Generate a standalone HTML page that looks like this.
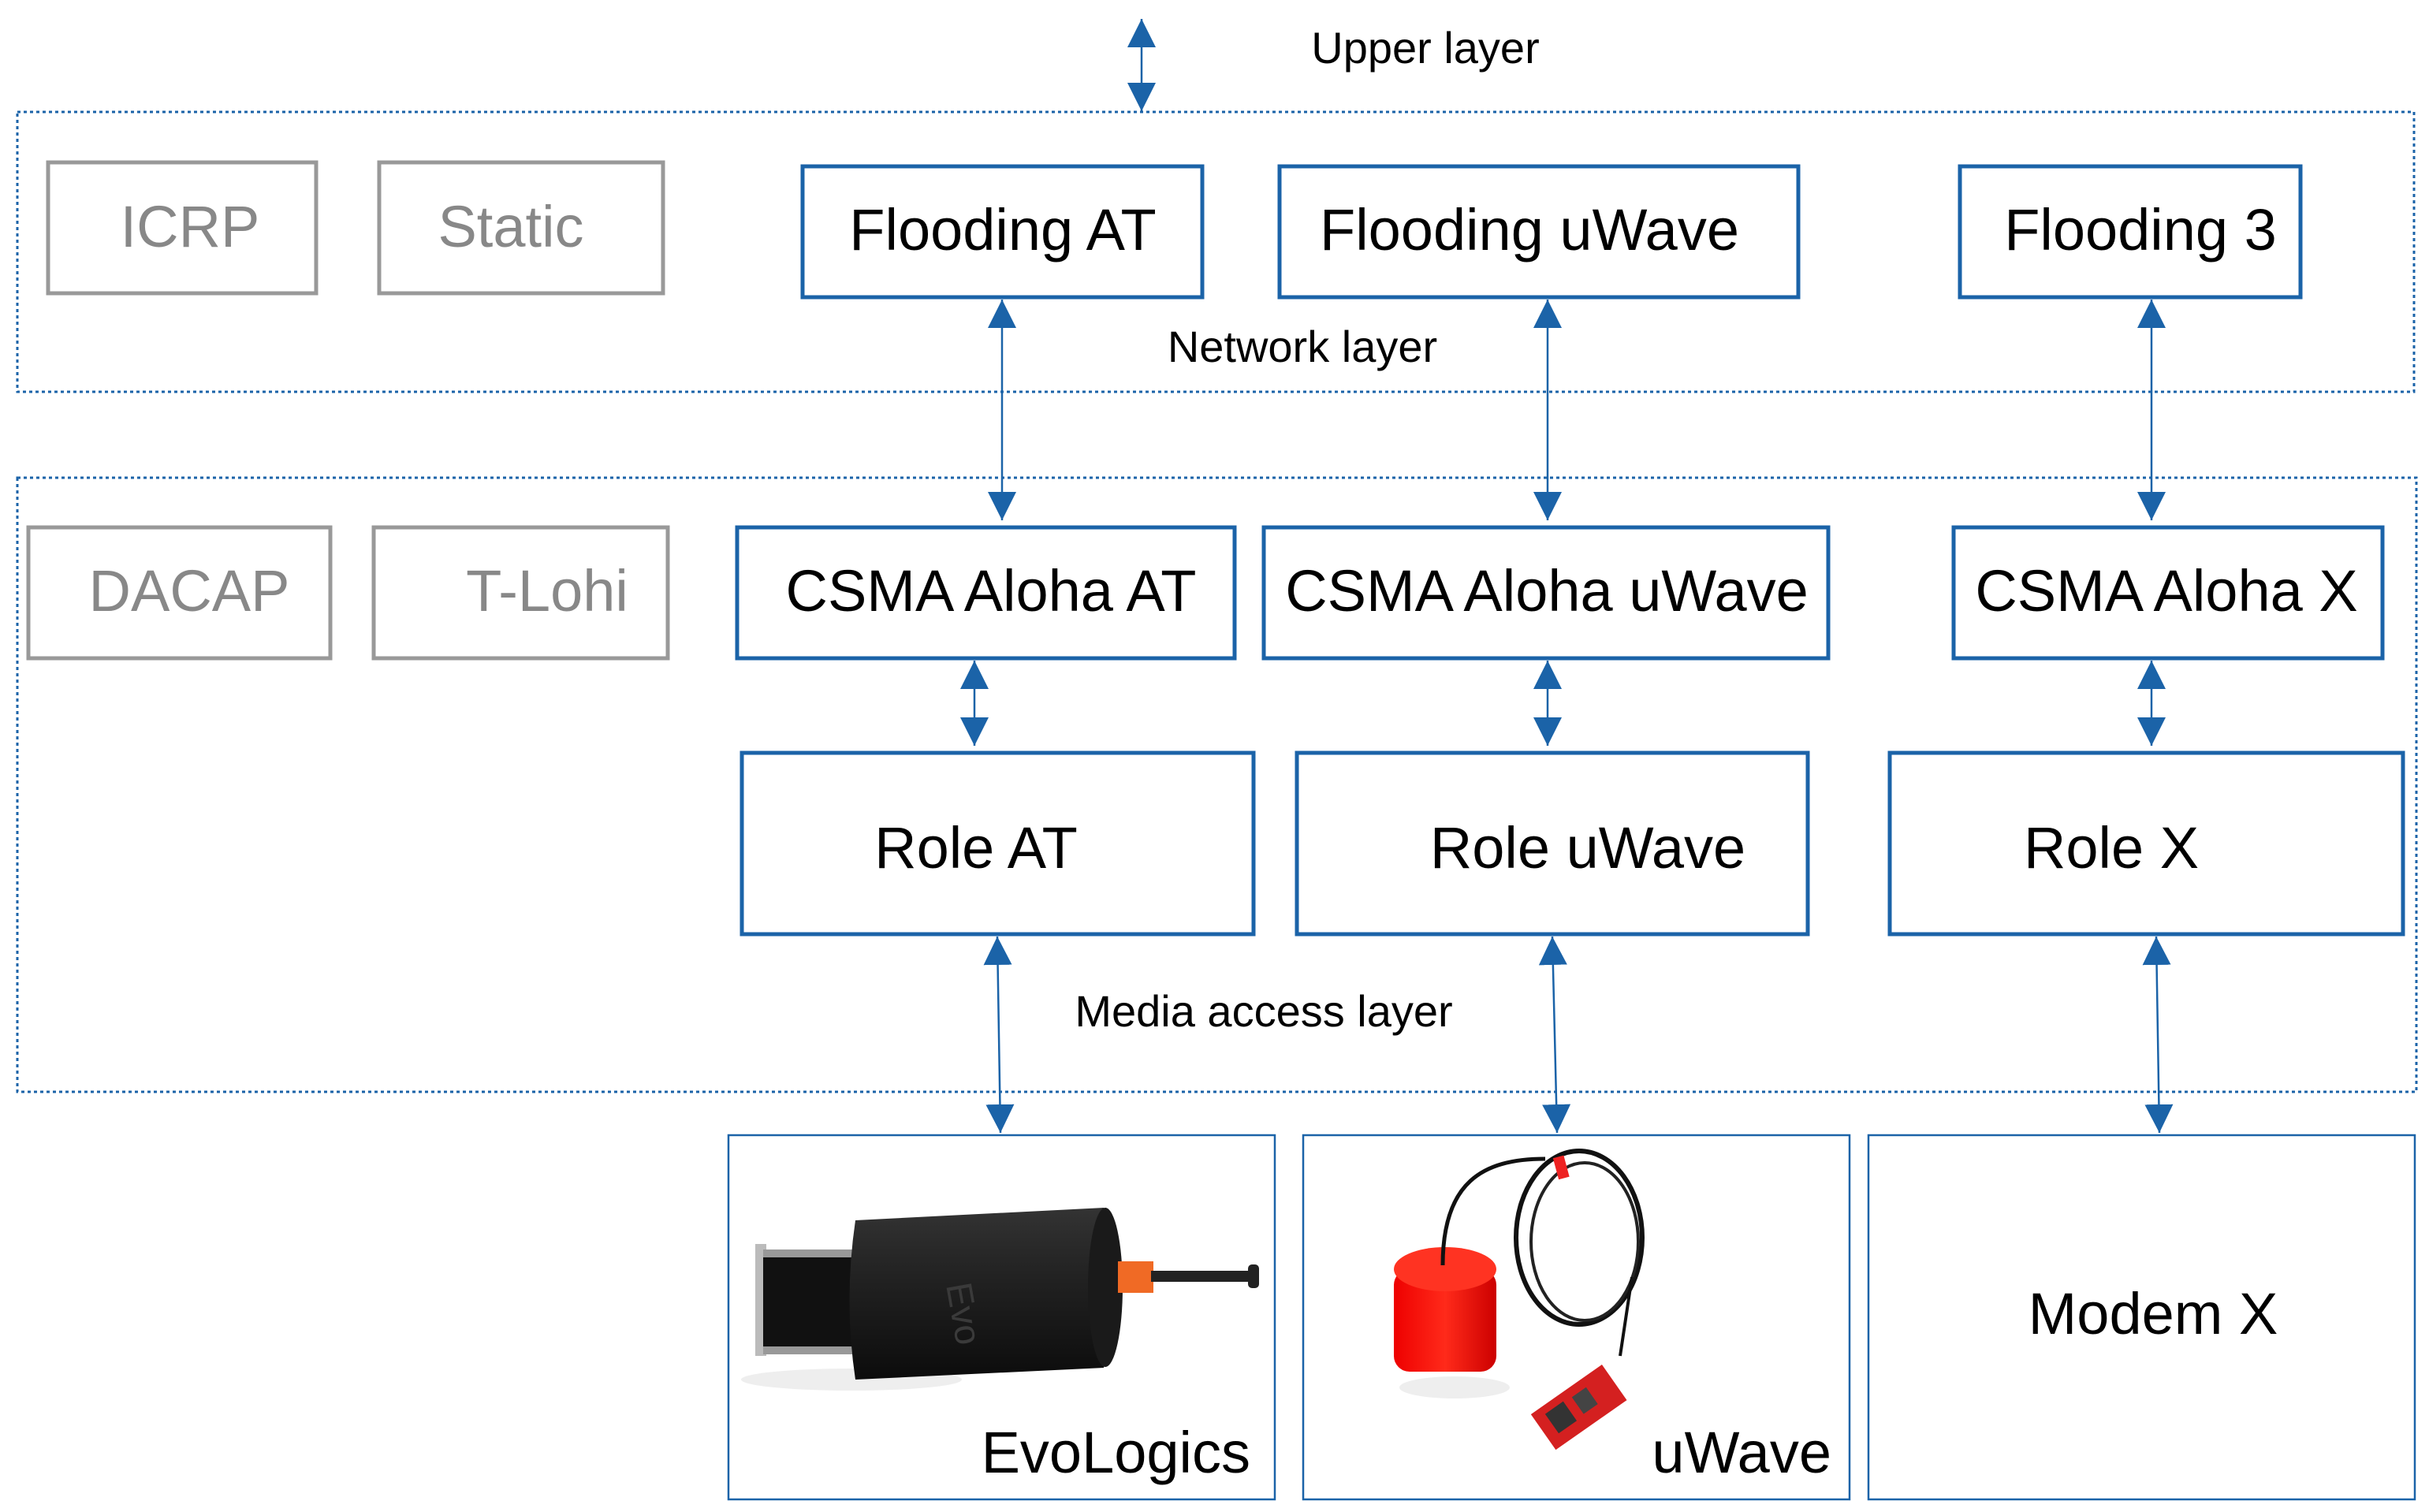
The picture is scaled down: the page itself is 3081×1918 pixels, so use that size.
<!DOCTYPE html>
<html><head><meta charset="utf-8"><style>
html,body{margin:0;padding:0;background:#fff;}
svg{display:block;}
text{font-family:"Liberation Sans",sans-serif;}
</style></head><body>
<svg width="3081" height="1918" viewBox="0 0 3081 1918" xmlns="http://www.w3.org/2000/svg">
<defs>
<marker id="a" viewBox="0 0 10 10" refX="10" refY="5" markerWidth="36" markerHeight="36" markerUnits="userSpaceOnUse" orient="auto-start-reverse"><path d="M0,0 L10,5 L0,10 z" fill="#1b63a8"/></marker>
<linearGradient id="cyl" x1="0" y1="0" x2="0" y2="1"><stop offset="0" stop-color="#333"/><stop offset="0.4" stop-color="#222"/><stop offset="1" stop-color="#0c0c0c"/></linearGradient>
<linearGradient id="red" x1="0" y1="0" x2="1" y2="0"><stop offset="0" stop-color="#e00"/><stop offset="0.5" stop-color="#ff2a1a"/><stop offset="1" stop-color="#c00"/></linearGradient>
</defs>
<!-- layer boxes -->
<rect x="22" y="142" width="3040" height="355" fill="none" stroke="#1b63a8" stroke-width="3" stroke-dasharray="4,4"/>
<rect x="22" y="606" width="3043" height="779" fill="none" stroke="#1b63a8" stroke-width="3" stroke-dasharray="4,4"/>
<!-- gray boxes -->
<g fill="none" stroke="#999" stroke-width="5">
<rect x="61" y="206" width="340" height="166"/>
<rect x="481" y="206" width="360" height="166"/>
<rect x="36" y="669" width="383" height="166"/>
<rect x="474" y="669" width="373" height="166"/>
</g>
<g font-size="74" fill="#888">
<text x="241" y="313" text-anchor="middle">ICRP</text>
<text x="648" y="313" text-anchor="middle">Static</text>
<text x="240" y="775" text-anchor="middle">DACAP</text>
<text x="694" y="775" text-anchor="middle">T-Lohi</text>
</g>
<!-- blue boxes -->
<g fill="none" stroke="#1b63a8" stroke-width="5">
<rect x="1018" y="211" width="507" height="166"/>
<rect x="1623" y="211" width="658" height="166"/>
<rect x="2486" y="211" width="432" height="166"/>
<rect x="935" y="669" width="631" height="166"/>
<rect x="1603" y="669" width="716" height="166"/>
<rect x="2478" y="669" width="544" height="166"/>
<rect x="941" y="955" width="649" height="230"/>
<rect x="1645" y="955" width="648" height="230"/>
<rect x="2397" y="955" width="651" height="230"/>
</g>
<g fill="none" stroke="#1b63a8" stroke-width="2.5">
<rect x="924" y="1440" width="693" height="462"/>
<rect x="1653" y="1440" width="693" height="462"/>
<rect x="2370" y="1440" width="693" height="462"/>
</g>
<g font-size="74" fill="#000">
<text x="1272" y="317" text-anchor="middle">Flooding AT</text>
<text x="1940" y="317" text-anchor="middle">Flooding uWave</text>
<text x="2715" y="317" text-anchor="middle">Flooding 3</text>
<text x="1257" y="775" text-anchor="middle">CSMA Aloha AT</text>
<text x="1962" y="775" text-anchor="middle">CSMA Aloha uWave</text>
<text x="2748" y="775" text-anchor="middle">CSMA Aloha X</text>
<text x="1238" y="1101" text-anchor="middle">Role AT</text>
<text x="2014" y="1101" text-anchor="middle">Role uWave</text>
<text x="2678" y="1101" text-anchor="middle">Role X</text>
<text x="1586" y="1868" text-anchor="end">EvoLogics</text>
<text x="2323" y="1868" text-anchor="end">uWave</text>
<text x="2731" y="1692" text-anchor="middle">Modem X</text>
</g>
<g font-size="56" fill="#000">
<text x="1808" y="80" text-anchor="middle">Upper layer</text>
<text x="1652" y="459" text-anchor="middle">Network layer</text>
<text x="1603" y="1302" text-anchor="middle">Media access layer</text>
</g>
<!-- arrows -->
<g stroke="#1b63a8" stroke-width="2.5" fill="none" marker-start="url(#a)" marker-end="url(#a)">
<line x1="1448" y1="24" x2="1448" y2="141"/>
<line x1="1271" y1="380" x2="1271" y2="660"/>
<line x1="1963" y1="380" x2="1963" y2="660"/>
<line x1="2729" y1="380" x2="2729" y2="660"/>
<line x1="1236" y1="838" x2="1236" y2="946"/>
<line x1="1963" y1="838" x2="1963" y2="946"/>
<line x1="2729" y1="838" x2="2729" y2="946"/>
<line x1="1265" y1="1188" x2="1269" y2="1437"/>
<line x1="1969" y1="1188" x2="1975" y2="1437"/>
<line x1="2735" y1="1188" x2="2739" y2="1437"/>
</g>
<!-- EvoLogics modem drawing -->
<g>
<ellipse cx="1080" cy="1750" rx="140" ry="14" fill="#eee"/>
<rect x="958" y="1578" width="14" height="142" fill="#bbb"/>
<rect x="968" y="1592" width="120" height="120" fill="#111"/>
<rect x="968" y="1585" width="120" height="10" fill="#999"/>
<rect x="968" y="1708" width="120" height="10" fill="#999"/>
<path d="M1085,1548 L1400,1532 Q1420,1635 1400,1735 L1085,1750 Q1070,1650 1085,1548 z" fill="url(#cyl)"/>
<ellipse cx="1402" cy="1633" rx="22" ry="101" fill="#1a1a1a"/>
<rect x="1418" y="1600" width="45" height="40" fill="#f06a25"/>
<rect x="1460" y="1612" width="130" height="14" fill="#222"/>
<rect x="1583" y="1604" width="14" height="30" rx="5" fill="#222"/>
<text x="1200" y="1630" font-size="46" fill="#3a3a3a" transform="rotate(80 1200 1630)">Evo</text>
</g>
<!-- uWave drawing -->
<g>
<ellipse cx="1845" cy="1760" rx="70" ry="14" fill="#eee"/>
<rect x="1768" y="1610" width="130" height="130" rx="20" fill="url(#red)"/>
<ellipse cx="1833" cy="1610" rx="65" ry="28" fill="#ff3322"/>
<path d="M1830,1605 C1830,1500 1880,1470 1960,1470" stroke="#111" stroke-width="5" fill="none"/>
<ellipse cx="2003" cy="1570" rx="80" ry="110" stroke="#111" stroke-width="6" fill="none"/>
<ellipse cx="2010" cy="1575" rx="68" ry="100" stroke="#222" stroke-width="4" fill="none"/>
<path d="M2070,1620 L2055,1720" stroke="#111" stroke-width="4"/>
<rect x="1973" y="1467" width="14" height="28" fill="#e22" transform="rotate(-15 1980 1480)"/>
<g transform="rotate(-35 2000 1790)"><rect x="1950" y="1760" width="110" height="55" fill="#d42020"/><rect x="1965" y="1770" width="28" height="30" fill="#333"/><rect x="2005" y="1772" width="22" height="26" fill="#444"/></g>
</g>
</svg>
</body></html>
